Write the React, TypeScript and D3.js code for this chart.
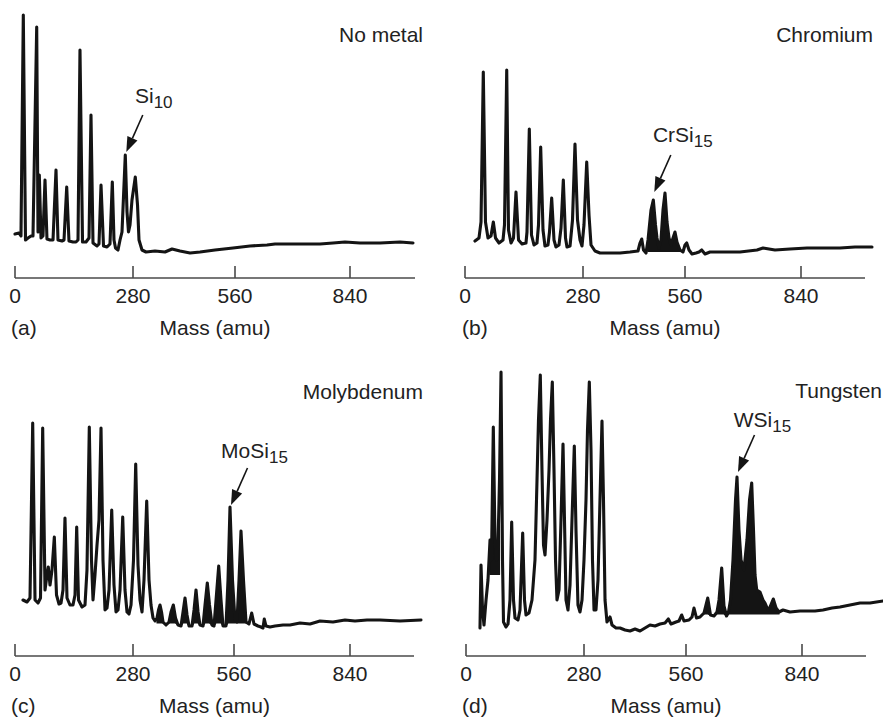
import React from "react";
import * as d3 from "d3";

type Pt = [number, number];
type FillRange = [number, number, number];

// ---------- data ----------
const massTicks = [0, 280, 560, 840];
const massDomain = [0, 280, 560, 840, 1000];

const panelLetters = ["(a)", "(b)", "(c)", "(d)"];
const metalNames = ["No metal", "Chromium", "Molybdenum", "Tungsten"];
const clusterMain = ["Si", "CrSi", "MoSi", "WSi"];
const clusterSub = ["10", "15", "15", "15"];
const clusterMass = [261.7, 473.0, 548.9, 683.1];
const clusterIntensity = [41.6, 23.6, 52, 64];
const axisTitle = "Mass (amu)";

// [mass (amu), intensity (arb.)]
const spectrumA: Pt[] = [
  [0, 10], [9.5, 10.4], [14.2, 9.2], [19.7, 97.6], [24.9, 7.6], [30.8, 8.4], [38, 9.2], [42.7, 9.2],
  [51.5, 92.8], [54.6, 10.8], [57.7, 33.6], [61.7, 8.4], [66.4, 9.2], [71.2, 31.6], [75.9, 8],
  [83.1, 7.6], [90.2, 7.6], [97.3, 35.6], [102, 7.6], [111.5, 7.2], [116.3, 7.6], [122.7, 28.8],
  [128.1, 7.2], [137.6, 6.8], [144.7, 6.8], [149.5, 7.6], [154.2, 83.6], [160.2, 6.8], [168.5, 6.8],
  [175.6, 8.4], [180.3, 57.6], [185.1, 6.4], [194.6, 5.2], [199.3, 6], [204.1, 29.6], [210, 5.2],
  [218.3, 4.8], [225.4, 6], [230.9, 30.8], [234.9, 7.6], [238.5, 4.4], [244.4, 3.6], [249.2, 7.6],
  [253.9, 10.8], [261.7, 41.6], [265.8, 18.8], [269.3, 10.8], [272.9, 13.6], [277.6, 23.6],
  [286.3, 32.8], [292.4, 21.6], [296.5, 7.6], [304.7, 3.6], [315.7, 2.8], [340.4, 3.2], [367.8, 2.8],
  [387.1, 4], [409, 3.2], [436.5, 2.4], [463.9, 2.8], [505.1, 3.6], [554.5, 4.4], [596.5, 5.2],
  [637.9, 5.6], [657.4, 6], [693.9, 6], [718.3, 6], [767, 6], [798.6, 6.4], [827.8, 6.8],
  [864.6, 6.4], [913.8, 6.4], [963.1, 6.8], [995.1, 6.4],
];

const spectrumB: Pt[] = [
  [23.7, 7.2], [33.2, 8.4], [38, 14.8], [43.4, 74.8], [48.6, 14.8], [54.6, 8.4], [61.7, 9.2],
  [67.2, 14.8], [72.4, 8.4], [80.7, 6.4], [90.2, 7.6], [93.7, 13.6], [99, 75.6], [103.2, 11.6],
  [109.2, 6.4], [115.1, 8.4], [121, 26.8], [127, 7.6], [135.3, 6], [144.7, 6.4], [147.1, 10.8],
  [152.6, 52], [157.8, 9.6], [163.7, 5.6], [170.8, 6.4], [174.4, 13.6], [179.6, 44.8], [185.1, 11.6],
  [189.8, 5.2], [196.9, 5.6], [200.5, 10.8], [205.7, 24.4], [211.2, 7.6], [215.9, 4.8], [223, 5.6],
  [227.8, 12.4], [233.3, 31.6], [238.5, 8.4], [242, 4.8], [249.2, 5.2], [255.1, 15.6], [261, 46],
  [267, 15.6], [272.9, 7.6], [277.6, 5.2], [282.7, 13.6], [290.2, 38.8], [296.5, 17.6], [302, 5.6],
  [312.9, 3.2], [326.7, 2.4], [354.1, 2.4], [381.6, 2.4], [409, 2.8], [431, 3.2], [436.5, 6.4],
  [441.2, 8], [446.1, 3.6], [453, 2.4], [458.5, 7.6], [466.7, 19.6], [473, 23.6], [479, 13.6],
  [483.1, 8.4], [488.6, 4.4], [494.1, 7.6], [499.6, 19.6], [505.1, 26.4], [510.6, 14.8], [516.1, 8.4],
  [521.6, 5.6], [527.1, 8.4], [532.5, 10.8], [538, 6.8], [546.3, 3.6], [554.5, 2.8], [560, 5.6],
  [564.1, 6.4], [569.7, 3.6], [576.9, 2], [586.6, 2.4], [593.8, 2.8], [600.3, 3.6], [608.3, 2],
  [620.3, 2.8], [656.6, 2.8], [692.8, 2.8], [733.8, 3.6], [748.3, 4.4], [777.2, 3.6], [813.4, 4],
  [855, 4.4], [900, 4.4], [937.5, 4.4], [975, 4.8], [1017.5, 4.8],
];

const spectrumC: Pt[] = [
  [19, 14.8], [28.5, 14], [35.6, 15.6], [42, 85.6], [47.5, 14.8], [54.6, 13.6], [60.5, 15.6],
  [65.7, 83.6], [71.2, 18.8], [75.9, 24.8], [79, 28], [83.1, 20.8], [87.8, 26.8], [93.3, 40],
  [98.5, 16.8], [104.4, 13.2], [109.2, 13.6], [113.9, 18.8], [118.6, 47.6], [123.4, 15.6],
  [130.5, 12.8], [137.6, 12.8], [142.4, 16.8], [146.4, 44], [150.7, 14.8], [159, 12], [166.1, 12.8],
  [170.8, 26.8], [176.3, 84], [181.5, 30.8], [185.1, 14.8], [189.8, 24.8], [194.6, 36.8],
  [199.3, 46.8], [204.1, 83.6], [208.8, 30.8], [213.6, 10.8], [218.3, 11.6], [223.1, 18.8],
  [229.5, 50.8], [234.9, 20.8], [239.7, 10], [244.4, 10.8], [249.2, 18.8], [255.6, 48], [261, 18.8],
  [265.8, 10], [270.5, 9.2], [275.3, 12.8], [281.4, 30.8], [287.5, 69.2], [293.9, 28.8],
  [299.4, 14.8], [305, 10], [310.5, 22.8], [318, 54.4], [324.4, 22.8], [329.9, 12.8], [335.5, 7.6],
  [341, 6.4], [346.6, 7.6], [350.7, 10.8], [354.9, 12.8], [359.1, 10], [363.2, 6], [371.5, 4.8],
  [379.8, 6], [385.4, 10], [391.8, 12.8], [397.9, 7.6], [404.8, 4.8], [413.1, 4.4], [418.7, 10],
  [424.2, 15.6], [429.8, 8.8], [435.3, 4.4], [443.6, 4.4], [449.2, 10.8], [454.7, 18.8], [460.3, 10],
  [465.7, 4.8], [474.1, 4.4], [479.7, 12.8], [486, 21.6], [492.1, 12.8], [499.1, 4.8], [504.6, 4.4],
  [510.2, 14.8], [517.6, 28.4], [524, 14.8], [529.5, 4.4], [537.8, 4.4], [543.4, 22.8], [548.9, 52],
  [555.8, 22.8], [562.4, 6.8], [567.2, 6], [572.1, 22.8], [576.9, 42.4], [582.9, 22.8], [589, 6],
  [596.2, 5.2], [602.7, 9.6], [608.3, 5.2], [617.9, 4.4], [625.2, 4], [630, 3.6], [633.1, 7.2],
  [637.2, 4.4], [646.9, 4], [659, 4.4], [678.3, 4.8], [695.2, 4.8], [719.3, 5.6], [743.5, 5.2],
  [767.6, 6.4], [799, 6], [827.9, 6.8], [852.5, 6.4], [882.5, 6.8], [915, 6.8], [965, 6.4],
  [1017.5, 6.8],
];

const spectrumD: Pt[] = [
  [33.2, 3.6], [35.6, 28.8], [39.2, 10.8], [42.7, 4.8], [47.5, 14.8], [52.2, 22.8], [57, 38.8],
  [60.5, 30.8], [64.8, 84], [68.8, 38.8], [72.4, 30.8], [75.9, 36.8], [79.5, 62.8], [83.1, 106],
  [86.6, 30.8], [89, 6], [94.9, 4], [99.7, 5.2], [104.4, 14.8], [108.4, 46], [112.7, 14.8],
  [116.3, 7.6], [123.4, 6.8], [128.1, 10.8], [134.5, 41.6], [138.8, 14.8], [142.4, 8.8], [149.5, 9.6],
  [156.6, 14.8], [163.7, 30.8], [168.5, 62.8], [172, 86.8], [176.3, 104.8], [180.3, 66.8],
  [183.9, 36.8], [187.5, 32.8], [192.2, 46.8], [197, 66.8], [200.5, 86.8], [204.8, 102],
  [208.8, 66.8], [212.4, 30.8], [215.9, 14.8], [220.7, 18.8], [225.4, 46.8], [230.2, 77.2],
  [233.7, 46.8], [237.3, 14.8], [242, 10.8], [246.8, 20.8], [251.5, 46.8], [257, 76.4], [261, 42.8],
  [265.7, 12.8], [270.5, 10], [275.3, 14.8], [280, 30.8], [285.5, 54.8], [289.6, 82.8], [294.6, 102],
  [299.2, 74.8], [303.3, 30.8], [307.5, 10.8], [312.9, 10.8], [318.4, 22.8], [323.9, 54.8],
  [329.4, 86.4], [333.5, 54.8], [337.7, 14.8], [343.1, 6], [351.4, 8], [356.9, 4.8], [367.9, 3.6],
  [378.9, 3.6], [392.6, 2.8], [406.3, 2.4], [420.1, 3.2], [433.8, 2.4], [447.5, 3.6], [461.2, 4.8],
  [475, 4.4], [488.7, 5.2], [502.4, 5.6], [511.5, 7.2], [518.9, 5.2], [532.6, 6], [540.8, 6.4],
  [548.2, 8.8], [554.5, 6.4], [567.2, 6.8], [574.5, 8], [579.3, 11.6], [585.3, 7.6], [593.8, 8],
  [603.4, 9.6], [612.4, 15.6], [619.1, 8.8], [627.6, 8.4], [634.8, 10], [639.7, 14.8], [646.2, 27.6],
  [651.7, 12.4], [657.8, 8.4], [662.6, 10], [667.4, 14.8], [673.4, 30.8], [679.5, 54.8], [683.1, 64],
  [687.9, 42.8], [692.8, 30.8], [700, 26.8], [707.2, 38.8], [713.3, 54.8], [718.6, 61.6],
  [722.9, 42.8], [726.6, 24.8], [730.7, 18.8], [738.6, 18], [745.9, 14.8], [750.7, 13.6],
  [757.9, 10.8], [762.8, 12], [770.7, 15.2], [777.3, 11.6], [784.5, 10], [794.2, 10.8], [811, 10],
  [835.2, 10.4], [852.5, 10.4], [872.5, 10.4], [892.5, 10.8], [915, 11.6], [935, 12], [960, 12.8],
  [985, 13.6], [1010, 13.6], [1042.5, 14.4],
];

// dense (unresolved) regions drawn solid: [from mass, to mass, floor intensity]
const fillA: FillRange[] = [];
const fillB: FillRange[] = [[455, 548, 3]];
const fillC: FillRange[] = [[345, 600, 5.6]];
const fillD: FillRange[] = [[55, 80, 25], [600, 786, 9.2]];

const spectra = [spectrumA, spectrumB, spectrumC, spectrumD];
const fills = [fillA, fillB, fillC, fillD];

// ---------- layout ----------
const W = 883;
const H = 717;
const FONT = '"Liberation Sans", Arial, Helvetica, sans-serif';
const INK = "#141414";

const layout = [
  { range: [15, 133, 235, 350, 415], axisY: 278, letterX: 11, titleX: 423, titleY: 42, gap: 3, ldx: 11, ldy: -12 },
  { range: [465, 583, 685, 801, 865], axisY: 278, letterX: 462, titleX: 873, titleY: 42, gap: 8, ldx: 12, ldy: -13 },
  { range: [15, 133, 234, 350, 414], axisY: 656, letterX: 11, titleX: 423, titleY: 399, gap: 2, ldx: 7, ldy: -10 },
  { range: [466, 584, 686, 802, 866], axisY: 656, letterX: 462, titleX: 882, titleY: 398, gap: 5, ldx: 8, ldy: -8 },
];

function Panel({ i }: { i: number }) {
  const L = layout[i];
  const x = d3.scaleLinear().domain(massDomain).range(L.range);
  const y = d3.scaleLinear().domain([0, 100]).range([L.axisY - 19, L.axisY - 269]);
  const line = d3
    .line<Pt>()
    .x((d) => x(d[0]))
    .y((d) => y(d[1]))
    .curve(d3.curveLinear);
  const data = spectra[i];

  const areas = fills[i].map(([m0, m1, floor]) => {
    const pts = data.filter((d) => d[0] >= m0 && d[0] <= m1);
    const area = d3
      .area<Pt>()
      .x((d) => x(d[0]))
      .y0((d) => y(Math.min(d[1], floor)))
      .y1((d) => y(d[1]));
    return area(pts) || "";
  });

  // annotation arrow
  const tipX = x(clusterMass[i]) + 1;
  const tipY = y(clusterIntensity[i]) - L.gap;
  const sx = tipX + 16.5;
  const sy = tipY - 37;
  const len = Math.hypot(sx - tipX, sy - tipY);
  const ux = (sx - tipX) / len;
  const uy = (sy - tipY) / len;
  const headL = 15;
  const headW = 5.5;
  const bx = tipX + ux * headL;
  const by = tipY + uy * headL;
  const head = `M${tipX},${tipY}L${bx - uy * headW},${by + ux * headW}L${bx + uy * headW},${by - ux * headW}Z`;

  const x0 = x(0);
  const x1 = x(1000);

  return (
    <g>
      {areas.map((p, k) => (
        <path key={k} d={p} fill={INK} stroke={INK} strokeWidth={1.2} strokeLinejoin="round" />
      ))}
      <path d={line(data) || ""} fill="none" stroke={INK} strokeWidth={3.1} strokeLinejoin="round" strokeLinecap="round" />

      {/* axis */}
      <line x1={x0} x2={x1} y1={L.axisY} y2={L.axisY} stroke="#4a4a4a" strokeWidth={1.6} />
      {massTicks.map((t) => (
        <g key={t}>
          <line x1={x(t)} x2={x(t)} y1={L.axisY - 12} y2={L.axisY} stroke="#4a4a4a" strokeWidth={1.6} />
          <text x={x(t)} y={L.axisY + 25} textAnchor="middle" fontSize={21} fill="#222" fontFamily={FONT}>
            {t}
          </text>
        </g>
      ))}
      <text x={L.letterX} y={L.axisY + 57} fontSize={21} fill="#222" fontFamily={FONT}>
        {panelLetters[i]}
      </text>
      <text x={(x0 + x1) / 2} y={L.axisY + 57} textAnchor="middle" fontSize={21} fill="#222" fontFamily={FONT}>
        {axisTitle}
      </text>

      {/* metal name */}
      <text x={L.titleX} y={L.titleY} textAnchor="end" fontSize={21} fill="#222" fontFamily={FONT}>
        {metalNames[i]}
      </text>

      {/* cluster label with arrow */}
      <line x1={sx} y1={sy} x2={bx} y2={by} stroke={INK} strokeWidth={1.6} />
      <path d={head} fill={INK} />
      <text x={sx + L.ldx} y={sy + L.ldy} textAnchor="middle" fontSize={21} fill="#222" fontFamily={FONT}>
        {clusterMain[i]}
        <tspan fontSize={17} dy={5}>
          {clusterSub[i]}
        </tspan>
      </text>
    </g>
  );
}

export default function App() {
  return (
    <svg
      width={W}
      height={H}
      viewBox={`0 0 ${W} ${H}`}
      style={{ position: "absolute", left: 0, top: 0, background: "#fff" }}
    >
      <rect width={W} height={H} fill="#fff" />
      {[0, 1, 2, 3].map((i) => (
        <Panel key={i} i={i} />
      ))}
    </svg>
  );
}
